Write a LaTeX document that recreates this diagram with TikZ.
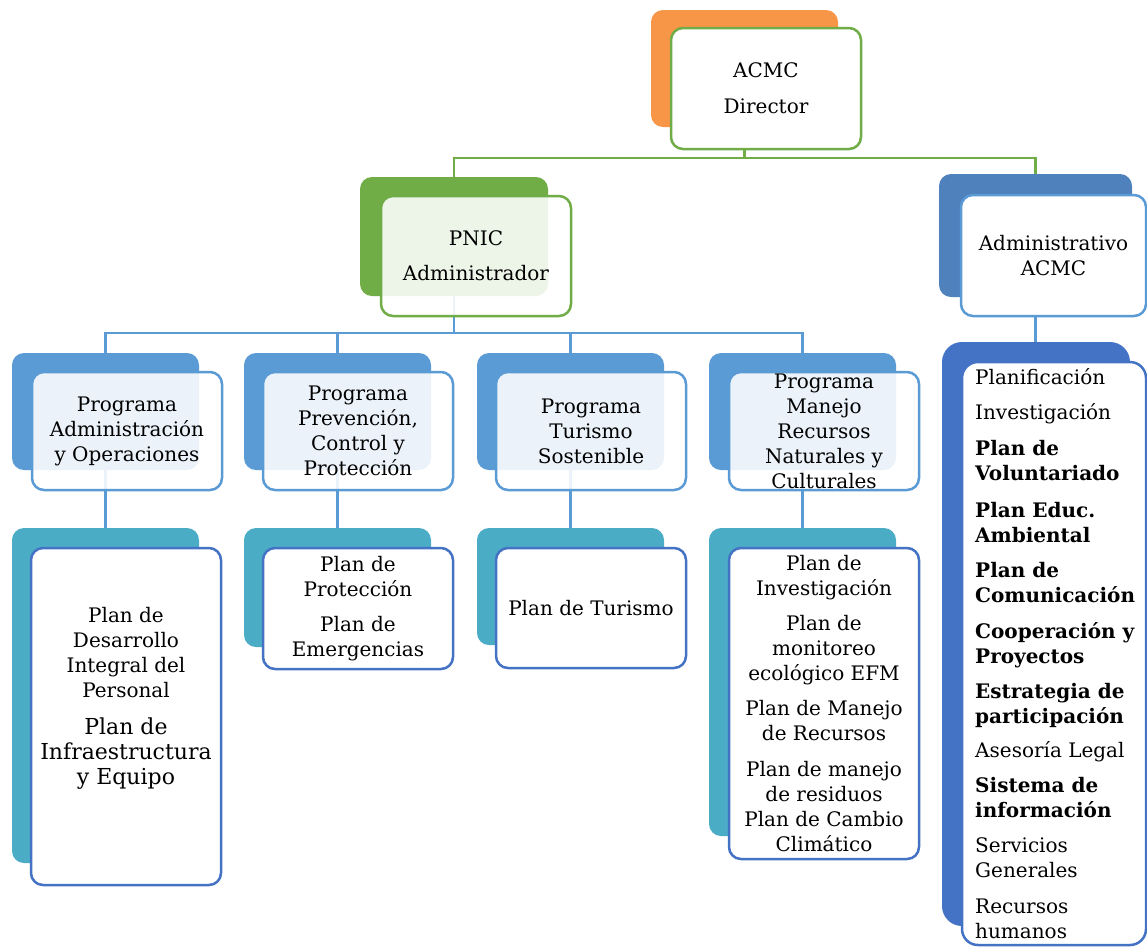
\documentclass[tikz,border=0pt]{standalone}
\usepackage{fontspec}
\setmainfont{DejaVu Serif}
\usetikzlibrary{backgrounds}
\definecolor{orng}{HTML}{F79646}
\definecolor{grn}{HTML}{70AD47}
\definecolor{admblue}{HTML}{4F81BD}
\definecolor{progblue}{HTML}{5B9BD5}
\definecolor{tealc}{HTML}{4BACC6}
\definecolor{dkblue}{HTML}{4472C4}
\newcommand\ftx{\fontsize{20}{25}\selectfont}
\tikzset{
  backbox/.style={rounded corners=12pt, anchor=north west, inner sep=0pt, outer sep=0pt, minimum width=187pt},
  frontbox/.style={draw, line width=2.5pt, rounded corners=12pt, fill=white, anchor=north west, inner sep=0pt, outer sep=0pt, minimum width=190pt, align=center, font=\ftx, text=black},
  tintbox/.style={frontbox, fill opacity=0.88, text opacity=1, draw opacity=1},
  txt/.style={align=center, font=\ftx, inner sep=0pt},
  gl/.style={draw=grn, line width=2.5pt},
  bl/.style={draw=progblue, line width=2.5pt},
}
\begin{document}
\begin{tikzpicture}[x=1pt,y=-1pt]
\useasboundingbox (0,0) rectangle (1147,946);
% top level
\node[backbox, fill=orng, minimum height=117pt] (dirB) at (651,10) {};
\node[frontbox, draw=grn, minimum height=121pt] (dir) at (671,28) {ACMC\\[11pt]Director};
\node[backbox, fill=grn, minimum width=188pt, minimum height=119pt] (pnicB) at (360,177) {};
\node[tintbox, draw=grn, minimum height=120pt] (pnic) at (381,196) {PNIC\\[10pt]Administrador};
\node[backbox, fill=admblue, minimum width=193pt, minimum height=123pt] (admB) at (939,174) {};
\node[frontbox, draw=progblue, minimum width=185pt, minimum height=121pt] (adm) at (961,195) {Administrativo\\ACMC};
% programs
\node[backbox, fill=progblue, minimum height=117pt] (progB1) at (12,353) {};
\node[tintbox, draw=progblue, minimum height=118pt] (prog1) at (32,372) {Programa\\Administración\\y Operaciones};
\node[backbox, fill=progblue, minimum height=117pt] (progB2) at (244,353) {};
\node[tintbox, draw=progblue, minimum height=118pt] (prog2) at (263,372) {Programa\\Prevención,\\Control y\\Protección};
\node[backbox, fill=progblue, minimum height=117pt] (progB3) at (477,353) {};
\node[tintbox, draw=progblue, minimum height=118pt] (prog3) at (496,372) {Programa\\Turismo\\Sostenible};
\node[backbox, fill=progblue, minimum height=117pt] (progB4) at (709,353) {};
\node[tintbox, draw=progblue, minimum height=118pt] (prog4) at (729,372) {Programa\\Manejo\\Recursos\\Naturales y\\Culturales};
% plans
\node[backbox, fill=tealc, minimum height=335pt] (planB1) at (12,528) {};
\node[frontbox, draw=dkblue, minimum height=337pt] (plan1) at (31,548) {};
\node[txt] (plan1T) at (126,698) {Plan de\\Desarrollo\\Integral del\\Personal\\[12pt]{\fontsize{22}{25}\selectfont Plan de}\\{\fontsize{22}{25}\selectfont Infraestructura}\\{\fontsize{22}{25}\selectfont y Equipo}};
\node[backbox, fill=tealc, minimum height=119pt] (planB2) at (244,528) {};
\node[frontbox, draw=dkblue, minimum height=121pt] (plan2) at (263,548) {Plan de\\Protección\\[10pt]Plan de\\Emergencias};
\node[backbox, fill=tealc, minimum height=117pt] (planB3) at (477,528) {};
\node[frontbox, draw=dkblue, minimum height=120pt] (plan3) at (496,548) {Plan de Turismo};
\node[backbox, fill=tealc, minimum height=308pt] (planB4) at (709,528) {};
\node[frontbox, draw=dkblue, minimum height=311pt] (plan4) at (729,548) {Plan de\\Investigación\\[10pt]Plan de\\monitoreo\\ecológico EFM\\[10pt]Plan de Manejo\\de Recursos\\[11pt]Plan de manejo\\de residuos\\Plan de Cambio\\Climático};
% admin list
\node[backbox, fill=dkblue, rounded corners=20pt, minimum width=188pt, minimum height=584pt] (listB) at (942,342) {};
\node[frontbox, draw=dkblue, rounded corners=16pt, minimum width=184pt, minimum height=583pt] (list) at (962,362) {};
\node[txt, align=left, anchor=west] (listT) at (975,654) {Planificación\\[10pt]
Investigación\\[11pt]
\textbf{Plan de}\\
\textbf{Voluntariado}\\[12pt]
\textbf{Plan Educ.}\\
\textbf{Ambiental}\\[10pt]
\textbf{Plan de}\\
\textbf{Comunicación}\\[11pt]
\textbf{Cooperación y}\\
\textbf{Proyectos}\\[10pt]
\textbf{Estrategia de}\\
\textbf{participación}\\[9pt]
Asesoría Legal\\[10pt]
\textbf{Sistema de}\\
\textbf{información}\\[10pt]
Servicios\\
Generales\\[11pt]
Recursos\\
humanos};
% connectors
\begin{pgfonlayer}{background}
\fill[white] (0,0) rectangle (1147,946);
\draw[gl] (dirB.south) |- (pnicB.north |- 0,158) -- (pnicB.north);
\draw[gl] (dirB.south) |- (admB.north |- 0,158) -- (admB.north);
\foreach \i in {1,2,3,4}{
  \draw[bl] (pnicB.south) |- (progB\i.north |- 0,333) -- (progB\i.north);
  \draw[bl] (progB\i.south) -- (planB\i.north);
}
\draw[bl] (admB.south) -- (admB.south |- listB.north);
\end{pgfonlayer}
\end{tikzpicture}
\end{document}
